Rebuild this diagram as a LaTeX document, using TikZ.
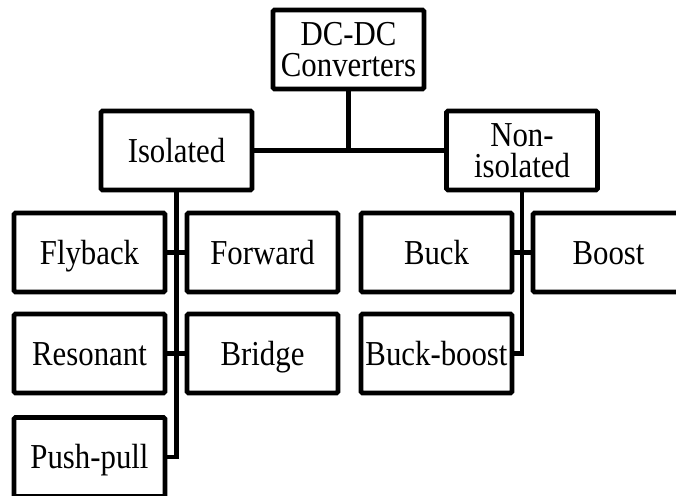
\documentclass[tikz,border=0pt]{standalone}
\usepackage{fontspec}
\setmainfont[FakeStretch=0.88]{Liberation Serif}
\begin{document}
\begin{tikzpicture}[x=1pt,y=-1pt,
  box/.style={draw, line width=4.8pt, rounded corners=1.5pt, outer sep=0pt,
    minimum width=151pt, minimum height=79pt, inner sep=0pt, align=center,
    font=\fontsize{35}{31}\selectfont},
  onebox/.style={box, text height=23pt, text depth=0pt},
  conn/.style={line width=4.8pt}]
\useasboundingbox[fill=white] (0,0) rectangle (676,495);
\node[box] (root) at (348.5,49.5) {DC-DC\\Converters};
\node[onebox] (iso) at (176.5,150.5) {Isolated};
\node[box] (non) at (522,150.5) {Non-\\isolated};
\node[onebox] (fly) at (89.5,252.5) {Flyback};
\node[onebox] (fwd) at (262.5,252.5) {Forward};
\node[onebox] (buck) at (436.5,252.5) {Buck};
\node[onebox] (boost) at (608.5,252.5) {Boost};
\node[onebox] (res) at (89.5,353.5) {Resonant};
\node[onebox] (bri) at (262.5,353.5) {Bridge};
\node[onebox] (bb) at (436.5,353.5) {Buck-boost};
\node[onebox] (pp) at (89.5,457) {Push-pull};
\draw[conn] (root.south) -- (root.south |- iso.east);
\draw[conn] (iso.east) -- (non.west);
\draw[conn] (iso.south) -- (iso.south |- pp.east) -- (pp.east);
\draw[conn] (fly.east) -- (fwd.west);
\draw[conn] (res.east) -- (bri.west);
\draw[conn] (non.south) -- (non.south |- bb.east) -- (bb.east);
\draw[conn] (buck.east) -- (boost.west);
\end{tikzpicture}
\end{document}
